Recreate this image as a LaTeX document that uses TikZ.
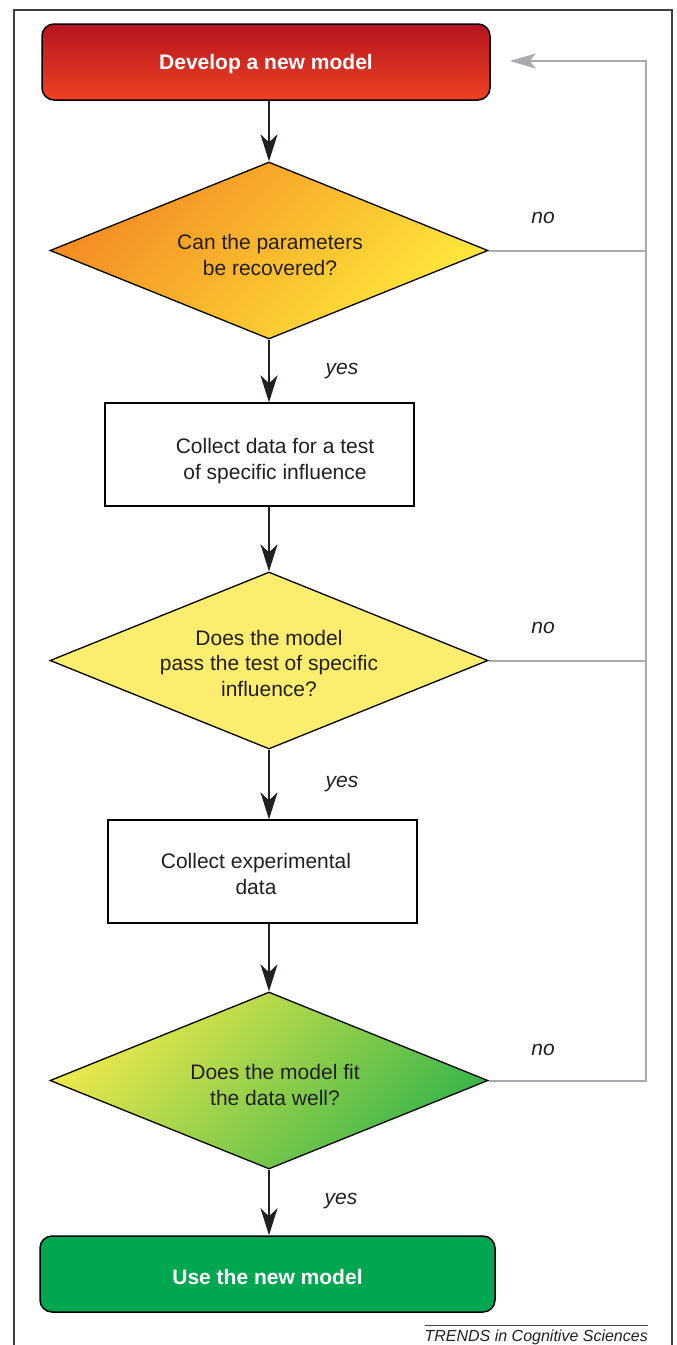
\documentclass[tikz,border=0pt]{standalone}
\usepackage{fontspec}
\setmainfont{Liberation Sans}
\usetikzlibrary{shapes.geometric,arrows.meta}
\definecolor{redtop}{HTML}{B5151F}
\definecolor{redmid}{HTML}{ED1C24}
\definecolor{redbot}{HTML}{EF4123}
\definecolor{orangetl}{HTML}{F38A22}
\definecolor{yellowbr}{HTML}{FFE93B}
\definecolor{yellowflat}{HTML}{FBEE6F}
\definecolor{yellowtl}{HTML}{EEE94B}
\definecolor{greenbr}{HTML}{39B54A}
\definecolor{greenbox}{HTML}{00A650}
\definecolor{ink}{HTML}{231F20}
\definecolor{greyline}{HTML}{A7A9AC}
\definecolor{framecol}{HTML}{404040}
\begin{document}
\begin{tikzpicture}[x=1pt,y=-1pt,
  txt/.style={font=\fontsize{21}{25.5}\selectfont, text=ink, align=center, inner sep=0},
  lbl/.style={font=\fontsize{21}{25}\selectfont\itshape, text=ink, inner sep=0},
  endbox/.style={draw=black, line width=1.5pt, rounded corners=12pt, font=\fontsize{21}{25}\selectfont\bfseries, text=white, inner sep=0},
  procbox/.style={draw=black, line width=1.3pt, fill=white, inner sep=0},
  dia/.style={diamond, draw=black, line width=1.3pt, minimum width=438, minimum height=177, inner sep=0, aspect=2.47},
  flow/.style={draw=ink, line width=2pt, -{Stealth[length=27pt,width=17pt,inset=8pt]}},
  greyflow/.style={draw=greyline, line width=2pt},
  framestyle/.style={draw=framecol, line width=1.3pt},
]
\useasboundingbox (0,0) rectangle (677,1345);
% frame
\draw[framestyle] (14,1345) -- (14,10) -- (672,10) -- (672,1345);

% nodes
\node[endbox, top color=redtop, middle color=redmid, bottom color=redbot, minimum width=448, minimum height=76, text depth=0pt] (start) at (266,62) {Develop a new model};

\node[dia, top color=orangetl, bottom color=yellowbr, shading angle=45] (d1) at (269,250.5) {};
\node[txt] (t1) at (270,255) {Can the parameters\\be recovered?};

\node[procbox, minimum width=309, minimum height=103] (b1) at (259.5,454.5) {};
\node[txt] (t2) at (275,461) {Collect data for a test\\of specific influence};

\node[dia, fill=yellowflat] (d2) at (269,660.5) {};
\node[txt] (t3) at (269,663) {Does the model\\pass the test of specific\\influence?};

\node[procbox, minimum width=309, minimum height=103] (b2) at (262.5,871.5) {};
\node[txt] (t4) at (256,874) {Collect experimental\\data};

\node[dia, top color=yellowtl, bottom color=greenbr, shading angle=45] (d3) at (269,1080.5) {};
\node[txt] (t5) at (275,1085) {Does the model fit\\the data well?};

\node[endbox, fill=greenbox, minimum width=455, minimum height=76, text height=20pt, text depth=0pt] (stop) at (267.5,1274) {Use the new model};

% black flow arrows
\draw[flow] (d1.north |- start.south) -- (d1.north);
\draw[flow] (d1.south) -- (d1.south |- b1.north);
\draw[flow] (d1.south |- b1.south) -- (d2.north);
\draw[flow] (d2.south) -- (d2.south |- b2.north);
\draw[flow] (d2.south |- b2.south) -- (d3.north);
\draw[flow] (d3.south) -- (d3.south |- stop.north);

% grey feedback
\coordinate (ctop) at (646,61);
\draw[greyflow, -{Stealth[length=26pt,width=15pt,inset=6pt]}, shorten >=19pt]
  (d3.east) -- (d3.east -| ctop) -- (ctop) -- (start.east |- ctop);
\draw[greyflow] (d1.east) -- (d1.east -| ctop);
\draw[greyflow] (d2.east) -- (d2.east -| ctop);

% labels
\node[lbl] (no1) at (543,218) {no};
\node[lbl] (no2) at (543,628) {no};
\node[lbl] (no3) at (543,1050) {no};
\node[lbl] (yes1) at (342,371) {yes};
\node[lbl] (yes2) at (342,784) {yes};
\node[lbl] (yes3) at (341,1201) {yes};

% caption
\coordinate (capl) at (425,1325);
\coordinate (capr) at (648,1325);
\draw[draw=framecol, line width=0.8pt] (capl) -- (capr);
\node[anchor=east, inner sep=0, font=\fontsize{16}{19}\selectfont\itshape, text=ink] (cap) at (648,1337) {TRENDS in Cognitive Sciences};
\end{tikzpicture}
\end{document}
